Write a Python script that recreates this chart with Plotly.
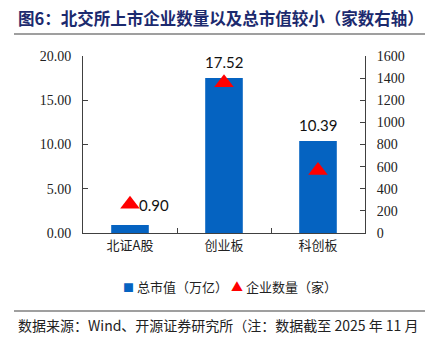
import plotly.graph_objects as go

# Board names, total market value (trillion yuan) and number of listed companies
boards = ["北证A股", "创业板", "科创板"]
market_value = [0.90, 17.52, 10.39]
company_count = [260, 1358, 565]

left_ticks = [0, 5, 10, 15, 20]
right_ticks = [0, 200, 400, 600, 800, 1000, 1200, 1400, 1600]

series_names = ["总市值（万亿）", "企业数量（家）"]

BLUE = "#0563C1"
RED = "#FF0000"
AXIS = "#404040"
CJK = "Noto Sans CJK SC"
SERIF = "Liberation Serif"

W, H = 429, 344
l, r, t, b = 83, 64, 56, 111
pw, ph = W - l - r, H - t - b


def px(x):
    return (x - l) / pw


def py(y):
    return 1 - (y - t) / ph


fig = go.Figure()

fig.add_trace(go.Bar(
    x=boards, y=market_value, name=series_names[0],
    marker=dict(color=BLUE, line=dict(width=0)),
    width=0.40, yaxis="y", showlegend=False,
))

fig.add_trace(go.Scatter(
    x=boards, y=company_count, name=series_names[1],
    mode="markers", yaxis="y2", showlegend=False,
    marker=dict(symbol="triangle-up", size=17, color=RED, line=dict(width=0)),
))

# Bar value labels
label_shift = [(24, 20), (0, 16), (0, 16)]
for bd, v, (dx, dy) in zip(boards, market_value, label_shift):
    fig.add_annotation(
        x=bd, y=v, xref="x", yref="y", text=f"{v:.2f}", showarrow=False,
        xshift=dx, yshift=dy, font=dict(family="Lato", size=15, color="#111111"),
    )

# Legend row
fig.add_annotation(
    x=px(121), y=py(286), xref="paper", yref="paper", showarrow=False,
    xanchor="left", yanchor="middle",
    text=f"<span style='color:{BLUE};font-size:11px'>■</span> {series_names[0]}",
    font=dict(family=CJK, size=13, color="#222222"),
)
fig.add_annotation(
    x=px(229), y=py(286), xref="paper", yref="paper", showarrow=False,
    xanchor="left", yanchor="middle",
    text=f"<span style='color:{RED};font-size:12px'>▲</span> {series_names[1]}",
    font=dict(family=CJK, size=13, color="#222222"),
)

# Title and source note
fig.add_annotation(
    x=px(16), y=py(18), xref="paper", yref="paper",
    text="<b>图6：北交所上市企业数量以及总市值较小（家数右轴）</b>",
    showarrow=False, xanchor="left", yanchor="middle",
    font=dict(family=CJK, size=16.5, color="#1C2A6E"),
)
fig.add_annotation(
    x=px(16), y=py(325), xref="paper", yref="paper",
    text="数据来源：Wind、开源证券研究所（注：数据截至 2025 年 11 月",
    showarrow=False, xanchor="left", yanchor="middle",
    font=dict(family=CJK, size=14, color="#222222"),
)

for y in (34, 311):
    fig.add_shape(type="line", xref="paper", yref="paper",
                  x0=px(14), x1=px(425), y0=py(y), y1=py(y),
                  line=dict(color="#7F7F7F", width=1.5))

fig.update_layout(
    width=W, height=H,
    margin=dict(l=l, r=r, t=t, b=b),
    paper_bgcolor="white", plot_bgcolor="white",
    showlegend=False,
    xaxis=dict(
        showline=True, linecolor=AXIS, linewidth=1,
        ticks="inside", tickson="boundaries", ticklen=5, tickcolor=AXIS,
        tickfont=dict(family=CJK, size=13, color="#222222"),
        showgrid=False, zeroline=False,
    ),
    yaxis=dict(
        range=[0, 20], tickvals=left_ticks, tickformat=".2f",
        showline=True, linecolor=AXIS, linewidth=1,
        ticks="inside", ticklen=5, tickcolor=AXIS, ticklabelstandoff=8,
        tickfont=dict(family=SERIF, size=14, color="#222222"),
        showgrid=False, zeroline=False,
    ),
    yaxis2=dict(
        range=[0, 1600], tickvals=right_ticks, overlaying="y", side="right",
        showline=True, linecolor=AXIS, linewidth=1,
        ticks="inside", ticklen=5, tickcolor=AXIS, ticklabelstandoff=8,
        tickfont=dict(family=SERIF, size=14, color="#222222"),
        showgrid=False, zeroline=False,
    ),
)

fig.write_html("out.html")
